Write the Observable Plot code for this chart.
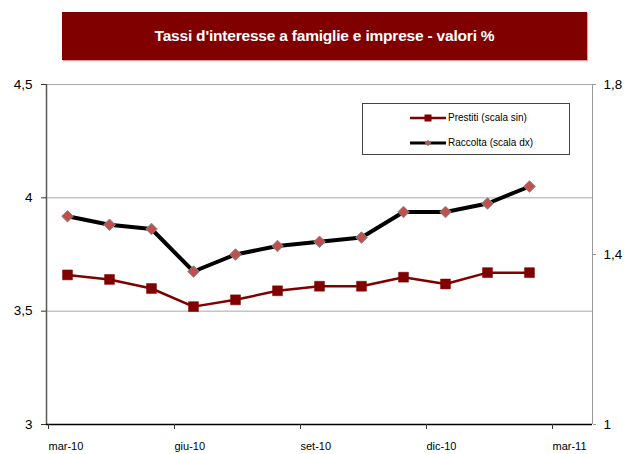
<!DOCTYPE html>
<html><head><meta charset="utf-8">
<script src="https://cdn.jsdelivr.net/npm/d3@7"></script>
<script src="https://cdn.jsdelivr.net/npm/@observablehq/plot@0.6"></script>
<style>
body{margin:0;background:#fff;font-family:"Liberation Sans",Arial,sans-serif;}
#wrap{position:relative;width:624px;height:454px;overflow:hidden;}
#title{position:absolute;left:62px;top:12px;width:525px;height:48px;background:#800000;color:#fff;font-weight:bold;font-size:15.5px;display:flex;align-items:center;justify-content:center;box-shadow:1px 1px 1px #e29a9a;letter-spacing:-0.2px;}
#legend{position:absolute;left:362px;top:103px;width:208px;height:52px;border:1px solid #444;background:#fff;font-size:10px;color:#000;box-sizing:border-box;}
.li{position:absolute;left:47px;display:flex;align-items:center;}
.li svg{margin-right:2px;}
#chart{position:absolute;left:0;top:0;}
</style>
</head><body>
<div id="wrap">
<div id="chart"></div>
<div id="title">Tassi d'interesse a famiglie e imprese - valori %</div>
<div id="legend"></div>
</div>
<script>
const months = ["mar-10","apr-10","mag-10","giu-10","lug-10","ago-10","set-10","ott-10","nov-10","dic-10","gen-11","feb-11"];
const prestiti = [3.66,3.64,3.60,3.52,3.55,3.59,3.61,3.61,3.65,3.62,3.67,3.67];
const raccolta = [1.49,1.47,1.46,1.36,1.40,1.42,1.43,1.44,1.50,1.50,1.52,1.56];
const xTickLabels = ["mar-10","giu-10","set-10","dic-10","mar-11"];
const xTickPos = [0,3,6,9,12];
const leftTicks = [3,3.5,4,4.5];
const rightTicks = [1,1.4,1.8];
const seriesNames = ["Prestiti  (scala sin)","Raccolta (scala dx)"];

const leftDom = [3,4.5], rightDom = [1,1.8];
const toLeft = v => leftDom[0] + (v-rightDom[0])*(leftDom[1]-leftDom[0])/(rightDom[1]-rightDom[0]);
const toRight = d => rightDom[0] + (d-leftDom[0])*(rightDom[1]-rightDom[0])/(leftDom[1]-leftDom[0]);
const fmt = d => String(+d.toFixed(2)).replace(".", ",");

const dataP = months.map((m,i)=>({x:i+0.5, y:prestiti[i]}));
const dataR = months.map((m,i)=>({x:i+0.5, y:toLeft(raccolta[i])}));

const chart = Plot.plot({
  width:624, height:454,
  marginLeft:46, marginRight:32, marginTop:84, marginBottom:30,
  style:{fontFamily:"'Liberation Sans', Arial, sans-serif", background:"transparent", color:"#000"},
  x:{domain:[0,13]},
  y:{domain:leftDom},
  marks:[
    Plot.ruleY([3.5,4,4.5],{stroke:"#a8a8a8", strokeWidth:1}),
    Plot.ruleX([13],{y1:3,y2:4.5,stroke:"#999",strokeWidth:1}),
    Plot.ruleX([0],{y1:3,y2:4.5,stroke:"#595959",strokeWidth:1.5}),
    Plot.ruleY([3],{stroke:"#000",strokeWidth:1.5}),
    Plot.axisY({anchor:"left", ticks:leftTicks, tickFormat:fmt, tickSize:5, tickPadding:9, fontSize:13.5, stroke:"#333", label:null}),
    Plot.axisY({anchor:"right", ticks:rightTicks.map(toLeft), tickFormat:d=>fmt(toRight(d)), tickSize:3, tickPadding:8, fontSize:13.5, stroke:"#999", label:null}),
    Plot.axisX({ticks:xTickPos, tickFormat:(d,i)=>xTickLabels[i], tickSize:5, tickPadding:13, fontSize:11, stroke:"#333", textAnchor:"start", dx:2, label:null}),
    Plot.line(dataP,{x:"x",y:"y",stroke:"#800000",strokeWidth:2.5}),
    Plot.dot(dataP,{x:"x",y:"y",symbol:"square",r:5.6,fill:"#800000",stroke:"#800000",strokeWidth:0.5}),
    Plot.line(dataR,{x:"x",y:"y",stroke:"#000",strokeWidth:4}),
    Plot.dot(dataR,{x:"x",y:"y",symbol:"diamond2",r:5.2,fill:"#c0504d",stroke:"#888",strokeWidth:1})
  ]
});
document.getElementById("chart").appendChild(chart);

const lg = document.getElementById("legend");
lg.innerHTML = `
<div class="li" style="top:8px"><svg width="36" height="10"><line x1="0" y1="5" x2="36" y2="5" stroke="#800000" stroke-width="2.5"/><rect x="14.5" y="1.5" width="7" height="7" fill="#800000"/></svg><span>${seriesNames[0]}</span></div>
<div class="li" style="top:33px"><svg width="36" height="10"><line x1="0" y1="5" x2="36" y2="5" stroke="#000" stroke-width="3"/><path d="M18 2 L21 5 L18 8 L15 5 Z" fill="#c0504d" stroke="#888" stroke-width="0.5"/></svg><span>${seriesNames[1]}</span></div>`;
</script>
</body></html>
